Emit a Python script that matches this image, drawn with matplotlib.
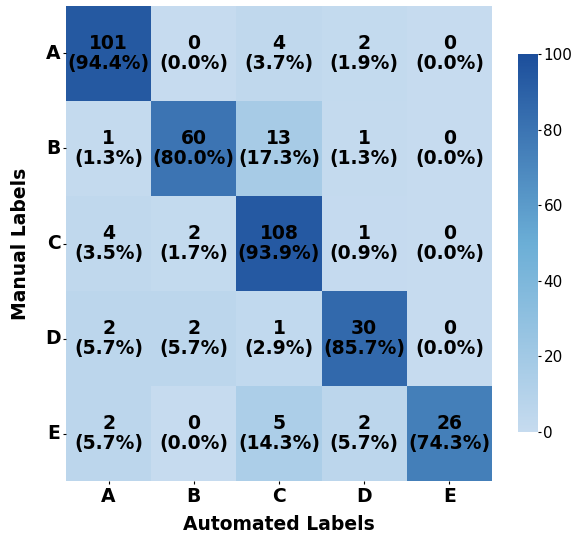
import numpy as np
import matplotlib
matplotlib.use("Agg")
import matplotlib.pyplot as plt
import seaborn as sns
from matplotlib.colors import LinearSegmentedColormap

# confusion matrix values
classes = ["A", "B", "C", "D", "E"]
counts = np.array([
    [101, 0, 4, 2, 0],
    [1, 60, 13, 1, 0],
    [4, 2, 108, 1, 0],
    [2, 2, 1, 30, 0],
    [2, 0, 5, 2, 26],
])

pct = counts / counts.sum(axis=1, keepdims=True) * 100
annot = np.array([[f"{c}\n({p:.1f}%)" for c, p in zip(rc, rp)] for rc, rp in zip(counts, pct)])

cmap = LinearSegmentedColormap.from_list("cb", ["#c6dbef", "#6baed6", "#1c4e9b"])

fig = plt.figure(figsize=(5.71, 5.35), dpi=100)
ax = fig.add_axes([0.1156, 0.1009, 0.746, 0.8879])
cax = fig.add_axes([0.907, 0.1925, 0.035, 0.7065])

sns.heatmap(pct, annot=annot, fmt="", cmap=cmap, vmin=0, vmax=100, ax=ax, cbar_ax=cax,
            annot_kws={"fontsize": 13.5, "fontweight": "bold", "color": "black", "linespacing": 1.1},
            xticklabels=classes, yticklabels=classes)

ax.set_xticklabels(classes, fontsize=13.5, fontweight="bold")
ax.set_yticklabels(classes, fontsize=13.5, fontweight="bold", rotation=0)
ax.tick_params(length=2.5, pad=1.5)
ax.set_xlabel("Automated Labels", fontsize=13.5, fontweight="bold", labelpad=7)
ax.set_ylabel("Manual Labels", fontsize=13.5, fontweight="bold", labelpad=11)
cax.tick_params(labelsize=11, length=2.5, pad=1.5)
cax.set_yticks([0, 20, 40, 60, 80, 100])

fig.savefig("out.png", dpi=100)
